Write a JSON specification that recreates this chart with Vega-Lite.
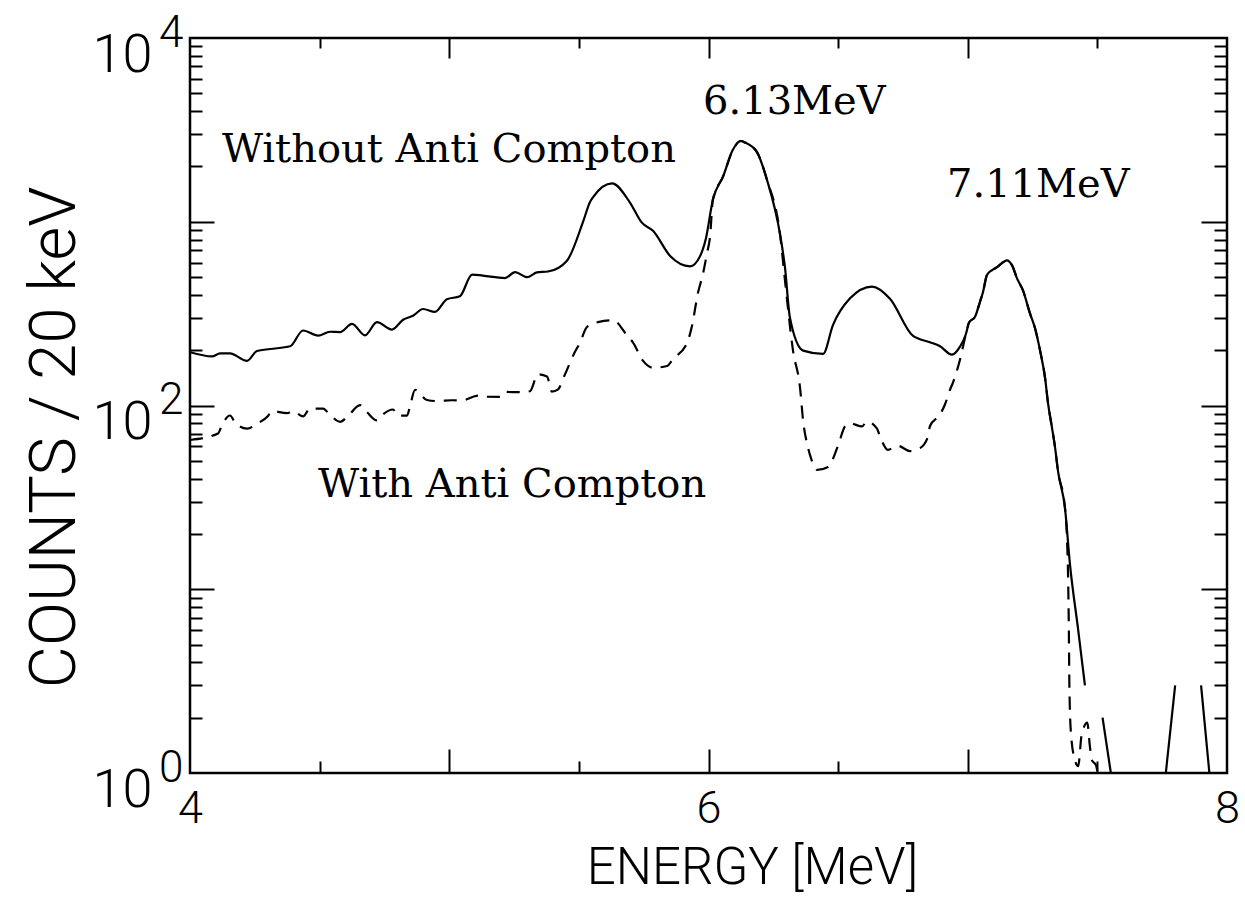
{
  "$schema": "https://vega.github.io/schema/vega-lite/v6.json",
  "width": 1037,
  "height": 735,
  "autosize": {"type": "none"},
  "padding": {"left": 190, "top": 38, "right": 18, "bottom": 137},
  "background": "white",
  "config": {
    "view": {"stroke": "black", "strokeWidth": 2.5},
    "axis": {"grid": false, "labelColor": "black", "titleColor": "black", "tickColor": "black", "domain": false, "labelOverlap": false, "labelBound": false, "labelFlush": false}
  },
  "datasets": {
    "solid": [
      {"E": 4.000, "v": 195}, {"E": 4.085, "v": 185}, {"E": 4.116, "v": 192}, {"E": 4.154, "v": 192},
      {"E": 4.220, "v": 175}, {"E": 4.258, "v": 198}, {"E": 4.309, "v": 203}, {"E": 4.386, "v": 210},
      {"E": 4.436, "v": 256}, {"E": 4.494, "v": 240}, {"E": 4.540, "v": 252}, {"E": 4.579, "v": 251},
      {"E": 4.625, "v": 278}, {"E": 4.675, "v": 241}, {"E": 4.721, "v": 284}, {"E": 4.779, "v": 259},
      {"E": 4.822, "v": 293}, {"E": 4.860, "v": 308}, {"E": 4.899, "v": 335}, {"E": 4.945, "v": 323},
      {"E": 4.991, "v": 379}, {"E": 5.041, "v": 393}, {"E": 5.088, "v": 516}, {"E": 5.130, "v": 509},
      {"E": 5.215, "v": 494}, {"E": 5.254, "v": 532}, {"E": 5.300, "v": 499}, {"E": 5.338, "v": 530},
      {"E": 5.381, "v": 536}, {"E": 5.454, "v": 614}, {"E": 5.516, "v": 998}, {"E": 5.543, "v": 1281},
      {"E": 5.555, "v": 1363}, {"E": 5.628, "v": 1619}, {"E": 5.697, "v": 1272}, {"E": 5.743, "v": 989},
      {"E": 5.786, "v": 893}, {"E": 5.852, "v": 651}, {"E": 5.929, "v": 572}, {"E": 5.967, "v": 648},
      {"E": 5.990, "v": 811}, {"E": 6.017, "v": 1321}, {"E": 6.056, "v": 1759}, {"E": 6.094, "v": 2463},
      {"E": 6.125, "v": 2750}, {"E": 6.141, "v": 2700}, {"E": 6.187, "v": 2393}, {"E": 6.226, "v": 1682}, {"E": 6.276, "v": 854},
      {"E": 6.295, "v": 564}, {"E": 6.314, "v": 301}, {"E": 6.365, "v": 199}, {"E": 6.442, "v": 191},
      {"E": 6.480, "v": 274}, {"E": 6.546, "v": 383}, {"E": 6.631, "v": 444}, {"E": 6.700, "v": 381},
      {"E": 6.789, "v": 239}, {"E": 6.854, "v": 221}, {"E": 6.893, "v": 210}, {"E": 6.939, "v": 189},
      {"E": 6.970, "v": 209}, {"E": 6.993, "v": 245}, {"E": 7.005, "v": 283}, {"E": 7.028, "v": 304},
      {"E": 7.047, "v": 366}, {"E": 7.059, "v": 415}, {"E": 7.074, "v": 513}, {"E": 7.094, "v": 546},
      {"E": 7.113, "v": 566}, {"E": 7.132, "v": 595}, {"E": 7.151, "v": 617}, {"E": 7.171, "v": 579},
      {"E": 7.190, "v": 492}, {"E": 7.213, "v": 423}, {"E": 7.240, "v": 317}, {"E": 7.259, "v": 265},
      {"E": 7.279, "v": 199}, {"E": 7.298, "v": 142}, {"E": 7.310, "v": 102}, {"E": 7.325, "v": 75.6},
      {"E": 7.337, "v": 58.8}, {"E": 7.348, "v": 44.1}, {"E": 7.375, "v": 27.7}, {"E": 7.394, "v": 13.8},
      {"E": 7.426, "v": 6.0}, {"E": 7.452, "v": 3.0}
    ],
    "dashed": [
      {"E": 4.000, "v": 64.9}, {"E": 4.108, "v": 70.5}, {"E": 4.123, "v": 78}, {"E": 4.154, "v": 88.2},
      {"E": 4.174, "v": 80.8}, {"E": 4.220, "v": 74.8}, {"E": 4.258, "v": 79.5}, {"E": 4.301, "v": 87.7},
      {"E": 4.316, "v": 93.3}, {"E": 4.374, "v": 90.8}, {"E": 4.397, "v": 93}, {"E": 4.436, "v": 87.2},
      {"E": 4.463, "v": 96.3}, {"E": 4.513, "v": 96.1}, {"E": 4.540, "v": 89.0}, {"E": 4.579, "v": 81.5},
      {"E": 4.606, "v": 86.6}, {"E": 4.656, "v": 100.5}, {"E": 4.683, "v": 91.9}, {"E": 4.721, "v": 83.0},
      {"E": 4.744, "v": 89.4}, {"E": 4.783, "v": 95.1}, {"E": 4.802, "v": 88.1}, {"E": 4.837, "v": 88.0},
      {"E": 4.849, "v": 99.7}, {"E": 4.868, "v": 121.7}, {"E": 4.914, "v": 107.2}, {"E": 4.953, "v": 105.7},
      {"E": 5.011, "v": 106.8}, {"E": 5.049, "v": 106.6}, {"E": 5.111, "v": 113.2}, {"E": 5.146, "v": 111.6},
      {"E": 5.196, "v": 111.4}, {"E": 5.215, "v": 118.5}, {"E": 5.273, "v": 118.2}, {"E": 5.311, "v": 119.5},
      {"E": 5.342, "v": 147.7}, {"E": 5.377, "v": 143.9}, {"E": 5.396, "v": 119.1}, {"E": 5.419, "v": 122.0},
      {"E": 5.446, "v": 147.2}, {"E": 5.485, "v": 196.0}, {"E": 5.504, "v": 219.1}, {"E": 5.531, "v": 267.5},
      {"E": 5.574, "v": 284.3}, {"E": 5.632, "v": 290.9}, {"E": 5.686, "v": 240.5}, {"E": 5.709, "v": 220.0},
      {"E": 5.747, "v": 175.4}, {"E": 5.786, "v": 160.4}, {"E": 5.840, "v": 164.1}, {"E": 5.863, "v": 178.9},
      {"E": 5.917, "v": 218.3}, {"E": 5.936, "v": 269.8}, {"E": 5.959, "v": 407.6}, {"E": 5.979, "v": 523.3},
      {"E": 5.994, "v": 672}, {"E": 6.006, "v": 831}, {"E": 6.017, "v": 1321}, {"E": 6.056, "v": 1759},
      {"E": 6.094, "v": 2463}, {"E": 6.125, "v": 2750}, {"E": 6.141, "v": 2700}, {"E": 6.187, "v": 2393}, {"E": 6.226, "v": 1682},
      {"E": 6.276, "v": 854}, {"E": 6.295, "v": 480}, {"E": 6.326, "v": 199}, {"E": 6.353, "v": 125},
      {"E": 6.365, "v": 82.7}, {"E": 6.384, "v": 58.9}, {"E": 6.395, "v": 51.9}, {"E": 6.419, "v": 44.6},
      {"E": 6.461, "v": 46.3}, {"E": 6.499, "v": 60.1}, {"E": 6.527, "v": 77.2}, {"E": 6.546, "v": 80.0},
      {"E": 6.592, "v": 76.9}, {"E": 6.611, "v": 81.8}, {"E": 6.650, "v": 74.8}, {"E": 6.662, "v": 67.7},
      {"E": 6.692, "v": 57.4}, {"E": 6.731, "v": 60.3}, {"E": 6.777, "v": 56.5}, {"E": 6.816, "v": 58.6},
      {"E": 6.847, "v": 68.0}, {"E": 6.854, "v": 77.1}, {"E": 6.893, "v": 89.4}, {"E": 6.912, "v": 101.3},
      {"E": 6.932, "v": 122.2}, {"E": 6.943, "v": 133.3}, {"E": 6.970, "v": 177.6}, {"E": 6.993, "v": 245},
      {"E": 7.005, "v": 283}, {"E": 7.028, "v": 304}, {"E": 7.047, "v": 366}, {"E": 7.059, "v": 415},
      {"E": 7.074, "v": 513}, {"E": 7.094, "v": 546}, {"E": 7.113, "v": 566}, {"E": 7.132, "v": 595},
      {"E": 7.151, "v": 617}, {"E": 7.171, "v": 579}, {"E": 7.190, "v": 492}, {"E": 7.213, "v": 423},
      {"E": 7.240, "v": 317}, {"E": 7.259, "v": 265}, {"E": 7.279, "v": 199}, {"E": 7.298, "v": 142},
      {"E": 7.310, "v": 102}, {"E": 7.325, "v": 75.6}, {"E": 7.337, "v": 58.8}, {"E": 7.348, "v": 44.1},
      {"E": 7.375, "v": 27.7}, {"E": 7.382, "v": 20}, {"E": 7.387, "v": 11.7}, {"E": 7.390, "v": 6.0},
      {"E": 7.392, "v": 3.0}, {"E": 7.398, "v": 1.65}, {"E": 7.413, "v": 1.18}, {"E": 7.426, "v": 1.09},
      {"E": 7.439, "v": 1.6}, {"E": 7.461, "v": 1.88}, {"E": 7.471, "v": 1.4}, {"E": 7.478, "v": 1.18},
      {"E": 7.495, "v": 1.1}, {"E": 7.501, "v": 1.0}
    ],
    "tail": [
      {"seg": "a", "E": 7.520, "v": 2}, {"seg": "a", "E": 7.552, "v": 1},
      {"seg": "b", "E": 7.764, "v": 1}, {"seg": "b", "E": 7.800, "v": 3},
      {"seg": "c", "E": 7.900, "v": 3}, {"seg": "c", "E": 7.932, "v": 1}
    ],
    "labels": [
      {"E": 4.123, "v": 2104, "label": "Without Anti Compton"},
      {"E": 5.979, "v": 3838, "label": "6.13MeV"},
      {"E": 6.920, "v": 1372, "label": "7.11MeV"},
      {"E": 4.494, "v": 31.9, "label": "With Anti Compton"}
    ]
  },
  "resolve": {"axis": {"x": "independent", "y": "independent"}},
  "layer": [
    {
      "data": {"name": "solid"},
      "mark": {"type": "line", "color": "black", "strokeWidth": 2.2, "clip": true, "interpolate": "monotone"},
      "encoding": {
        "x": {"field": "E", "type": "quantitative", "scale": {"domain": [4, 8], "nice": false, "zero": false},
          "axis": {"orient": "bottom", "values": [4, 6, 8], "ticks": false, "tickSize": 0, "labelPadding": 13,
            "labelFont": "Roboto", "labelFontWeight": 300, "labelFontSize": 45, "labelBaseline": "top",
            "title": "ENERGY [MeV]", "titleFont": "Roboto", "titleFontSize": 51, "titleFontWeight": 300,
            "titleX": 562, "titleY": 110, "titleBaseline": "alphabetic", "titleAlign": "center"}},
        "y": {"field": "v", "type": "quantitative", "scale": {"type": "log", "domain": [1, 10000], "nice": false},
          "axis": {"orient": "left", "values": [1, 100, 10000], "labelExpr": "'10'", "ticks": false, "tickSize": 0,
            "labelPadding": 38, "labelFont": "Roboto", "labelFontWeight": 300, "labelFontSize": 54, "labelBaseline": "alphabetic",
            "labelAlign": "right", "labelOffset": 33,
            "title": "COUNTS / 20 keV", "titleFont": "Roboto", "titleFontSize": 65, "titleFontWeight": 300,
            "titleX": -116, "titleY": 399, "titleBaseline": "alphabetic", "titleAlign": "center", "titleAngle": -90}}
      }
    },
    {
      "data": {"name": "dashed"},
      "mark": {"type": "line", "color": "black", "strokeWidth": 2.2, "strokeDash": [13, 9], "clip": true, "interpolate": "monotone"},
      "encoding": {
        "x": {"field": "E", "type": "quantitative", "scale": {"domain": [4, 8], "nice": false, "zero": false},
          "axis": {"orient": "top", "offset": -735, "values": [4.5, 5, 5.5, 6, 6.5, 7, 7.5], "labels": false, "title": null,
            "tickWidth": 2, "tickSize": {"condition": {"test": "datum.value % 1 == 0", "value": 24}, "value": 12}}},
        "y": {"field": "v", "type": "quantitative", "scale": {"type": "log", "domain": [1, 10000], "nice": false},
          "axis": {"orient": "left", "values": [1, 100, 10000], "labelExpr": "format(round(log(datum.value)/LN10), 'd')",
            "ticks": false, "tickSize": 0, "labelPadding": 7, "labelFont": "Roboto", "labelFontWeight": 300, "labelFontSize": 44,
            "labelBaseline": "alphabetic", "labelAlign": "right", "labelOffset": 8, "title": null}}
      }
    },
    {
      "data": {"name": "labels"},
      "mark": {"type": "text", "font": "DejaVu Serif", "fontSize": 40, "align": "left", "baseline": "alphabetic", "color": "black"},
      "encoding": {
        "x": {"field": "E", "type": "quantitative", "scale": {"domain": [4, 8], "nice": false, "zero": false},
          "axis": {"orient": "bottom", "offset": -735, "values": [4.5, 5, 5.5, 6, 6.5, 7, 7.5], "labels": false, "title": null,
            "tickWidth": 2, "tickSize": {"condition": {"test": "datum.value % 1 == 0", "value": 20}, "value": 10}}},
        "y": {"field": "v", "type": "quantitative", "scale": {"type": "log", "domain": [1, 10000], "nice": false},
          "axis": {"orient": "right", "offset": -1037, "labels": false, "title": null, "tickWidth": 2,
            "values": [2, 3, 4, 5, 6, 7, 8, 9, 10, 20, 30, 40, 50, 60, 70, 80, 90, 100, 200, 300, 400, 500, 600, 700, 800, 900, 1000, 2000, 3000, 4000, 5000, 6000, 7000, 8000, 9000],
            "tickSize": {"condition": {"test": "datum.value == 10 || datum.value == 100 || datum.value == 1000", "value": 24}, "value": 12}}},
        "text": {"field": "label", "type": "nominal"}
      }
    },
    {
      "data": {"name": "tail"},
      "mark": {"type": "line", "color": "black", "strokeWidth": 2.2, "clip": true},
      "encoding": {
        "x": {"field": "E", "type": "quantitative", "scale": {"domain": [4, 8], "nice": false, "zero": false}, "axis": null},
        "y": {"field": "v", "type": "quantitative", "scale": {"type": "log", "domain": [1, 10000], "nice": false},
          "axis": {"orient": "left", "offset": -1037, "labels": false, "title": null, "tickWidth": 2,
            "values": [2, 3, 4, 5, 6, 7, 8, 9, 10, 20, 30, 40, 50, 60, 70, 80, 90, 100, 200, 300, 400, 500, 600, 700, 800, 900, 1000, 2000, 3000, 4000, 5000, 6000, 7000, 8000, 9000],
            "tickSize": {"condition": {"test": "datum.value == 10 || datum.value == 100 || datum.value == 1000", "value": 26}, "value": 13}}},
        "detail": {"field": "seg", "type": "nominal"}
      }
    }
  ]
}
